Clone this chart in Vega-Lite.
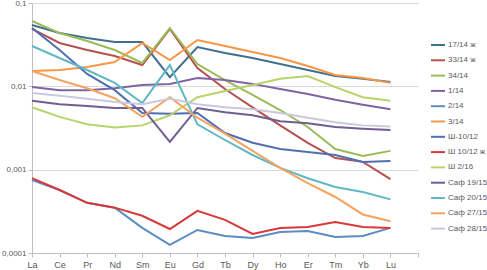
{
  "$schema": "https://vega.github.io/schema/vega-lite/v6.json",
  "width": 386,
  "height": 250,
  "autosize": {"type": "none"},
  "padding": {"left": 32, "top": 3, "right": 69, "bottom": 17},
  "background": "white",
  "config": {"view": {"stroke": null}, "font": "Liberation Sans"},
  "datasets": {
    "ree": [
      {"s":"17/14 ж","e":"La","v":0.0544},{"s":"17/14 ж","e":"Ce","v":0.0436},{"s":"17/14 ж","e":"Pr","v":0.038},{"s":"17/14 ж","e":"Nd","v":0.034},{"s":"17/14 ж","e":"Sm","v":0.034},{"s":"17/14 ж","e":"Eu","v":0.0129},{"s":"17/14 ж","e":"Gd","v":0.0296},{"s":"17/14 ж","e":"Tb","v":0.0251},{"s":"17/14 ж","e":"Dy","v":0.0219},{"s":"17/14 ж","e":"Ho","v":0.0185},{"s":"17/14 ж","e":"Er","v":0.0157},{"s":"17/14 ж","e":"Tm","v":0.0133},{"s":"17/14 ж","e":"Yb","v":0.0123},{"s":"17/14 ж","e":"Lu","v":0.0113},
      {"s":"33/14 ж","e":"La","v":0.0488},{"s":"33/14 ж","e":"Ce","v":0.0331},{"s":"33/14 ж","e":"Pr","v":0.0273},{"s":"33/14 ж","e":"Nd","v":0.0231},{"s":"33/14 ж","e":"Sm","v":0.018},{"s":"33/14 ж","e":"Eu","v":0.0488},{"s":"33/14 ж","e":"Gd","v":0.0166},{"s":"33/14 ж","e":"Tb","v":0.0093},{"s":"33/14 ж","e":"Dy","v":0.0056},{"s":"33/14 ж","e":"Ho","v":0.0034},{"s":"33/14 ж","e":"Er","v":0.0021},{"s":"33/14 ж","e":"Tm","v":0.00138},{"s":"33/14 ж","e":"Yb","v":0.00124},{"s":"33/14 ж","e":"Lu","v":0.00077},
      {"s":"34/14","e":"La","v":0.0608},{"s":"34/14","e":"Ce","v":0.0436},{"s":"34/14","e":"Pr","v":0.035},{"s":"34/14","e":"Nd","v":0.0273},{"s":"34/14","e":"Sm","v":0.0191},{"s":"34/14","e":"Eu","v":0.0501},{"s":"34/14","e":"Gd","v":0.0185},{"s":"34/14","e":"Tb","v":0.0119},{"s":"34/14","e":"Dy","v":0.0079},{"s":"34/14","e":"Ho","v":0.0052},{"s":"34/14","e":"Er","v":0.00325},{"s":"34/14","e":"Tm","v":0.00177},{"s":"34/14","e":"Yb","v":0.00146},{"s":"34/14","e":"Lu","v":0.00168},
      {"s":"1/14","e":"La","v":0.0098},{"s":"1/14","e":"Ce","v":0.009},{"s":"1/14","e":"Pr","v":0.009},{"s":"1/14","e":"Nd","v":0.0095},{"s":"1/14","e":"Sm","v":0.0104},{"s":"1/14","e":"Eu","v":0.0107},{"s":"1/14","e":"Gd","v":0.0126},{"s":"1/14","e":"Tb","v":0.0119},{"s":"1/14","e":"Dy","v":0.0107},{"s":"1/14","e":"Ho","v":0.0093},{"s":"1/14","e":"Er","v":0.0081},{"s":"1/14","e":"Tm","v":0.0069},{"s":"1/14","e":"Yb","v":0.006},{"s":"1/14","e":"Lu","v":0.0053},
      {"s":"2/14","e":"La","v":0.00075},{"s":"2/14","e":"Ce","v":0.00057},{"s":"2/14","e":"Pr","v":0.0004},{"s":"2/14","e":"Nd","v":0.00035},{"s":"2/14","e":"Sm","v":0.0002},{"s":"2/14","e":"Eu","v":0.000125},{"s":"2/14","e":"Gd","v":0.000189},{"s":"2/14","e":"Tb","v":0.00016},{"s":"2/14","e":"Dy","v":0.000151},{"s":"2/14","e":"Ho","v":0.000179},{"s":"2/14","e":"Er","v":0.000184},{"s":"2/14","e":"Tm","v":0.000156},{"s":"2/14","e":"Yb","v":0.00016},{"s":"2/14","e":"Lu","v":0.0002},
      {"s":"3/14","e":"La","v":0.0153},{"s":"3/14","e":"Ce","v":0.0157},{"s":"3/14","e":"Pr","v":0.0171},{"s":"3/14","e":"Nd","v":0.0196},{"s":"3/14","e":"Sm","v":0.0331},{"s":"3/14","e":"Eu","v":0.0207},{"s":"3/14","e":"Gd","v":0.036},{"s":"3/14","e":"Tb","v":0.0305},{"s":"3/14","e":"Dy","v":0.0258},{"s":"3/14","e":"Ho","v":0.0219},{"s":"3/14","e":"Er","v":0.0175},{"s":"3/14","e":"Tm","v":0.0137},{"s":"3/14","e":"Yb","v":0.0126},{"s":"3/14","e":"Lu","v":0.011},
      {"s":"Ш-10/12","e":"La","v":0.0501},{"s":"Ш-10/12","e":"Ce","v":0.0273},{"s":"Ш-10/12","e":"Pr","v":0.0141},{"s":"Ш-10/12","e":"Nd","v":0.009},{"s":"Ш-10/12","e":"Sm","v":0.0048},{"s":"Ш-10/12","e":"Eu","v":0.0047},{"s":"Ш-10/12","e":"Gd","v":0.0048},{"s":"Ш-10/12","e":"Tb","v":0.00275},{"s":"Ш-10/12","e":"Dy","v":0.0021},{"s":"Ш-10/12","e":"Ho","v":0.00177},{"s":"Ш-10/12","e":"Er","v":0.00163},{"s":"Ш-10/12","e":"Tm","v":0.0015},{"s":"Ш-10/12","e":"Yb","v":0.00124},{"s":"Ш-10/12","e":"Lu","v":0.00127},
      {"s":"Ш 10/12 ж","e":"La","v":0.00079},{"s":"Ш 10/12 ж","e":"Ce","v":0.00057},{"s":"Ш 10/12 ж","e":"Pr","v":0.0004},{"s":"Ш 10/12 ж","e":"Nd","v":0.00035},{"s":"Ш 10/12 ж","e":"Sm","v":0.00028},{"s":"Ш 10/12 ж","e":"Eu","v":0.000194},{"s":"Ш 10/12 ж","e":"Gd","v":0.00032},{"s":"Ш 10/12 ж","e":"Tb","v":0.00025},{"s":"Ш 10/12 ж","e":"Dy","v":0.000169},{"s":"Ш 10/12 ж","e":"Ho","v":0.0002},{"s":"Ш 10/12 ж","e":"Er","v":0.000205},{"s":"Ш 10/12 ж","e":"Tm","v":0.000235},{"s":"Ш 10/12 ж","e":"Yb","v":0.000205},{"s":"Ш 10/12 ж","e":"Lu","v":0.0002},
      {"s":"Ш 2/16","e":"La","v":0.0056},{"s":"Ш 2/16","e":"Ce","v":0.0043},{"s":"Ш 2/16","e":"Pr","v":0.0035},{"s":"Ш 2/16","e":"Nd","v":0.0032},{"s":"Ш 2/16","e":"Sm","v":0.0034},{"s":"Ш 2/16","e":"Eu","v":0.0045},{"s":"Ш 2/16","e":"Gd","v":0.0074},{"s":"Ш 2/16","e":"Tb","v":0.0088},{"s":"Ш 2/16","e":"Dy","v":0.0104},{"s":"Ш 2/16","e":"Ho","v":0.0123},{"s":"Ш 2/16","e":"Er","v":0.0133},{"s":"Ш 2/16","e":"Tm","v":0.0098},{"s":"Ш 2/16","e":"Yb","v":0.0074},{"s":"Ш 2/16","e":"Lu","v":0.0067},
      {"s":"Саф 19/15","e":"La","v":0.0067},{"s":"Саф 19/15","e":"Ce","v":0.0061},{"s":"Саф 19/15","e":"Pr","v":0.0058},{"s":"Саф 19/15","e":"Nd","v":0.0055},{"s":"Саф 19/15","e":"Sm","v":0.0055},{"s":"Саф 19/15","e":"Eu","v":0.00215},{"s":"Саф 19/15","e":"Gd","v":0.0055},{"s":"Саф 19/15","e":"Tb","v":0.0049},{"s":"Саф 19/15","e":"Dy","v":0.0045},{"s":"Саф 19/15","e":"Ho","v":0.0038},{"s":"Саф 19/15","e":"Er","v":0.0036},{"s":"Саф 19/15","e":"Tm","v":0.00325},{"s":"Саф 19/15","e":"Yb","v":0.0031},{"s":"Саф 19/15","e":"Lu","v":0.003},
      {"s":"Саф 20/15","e":"La","v":0.0305},{"s":"Саф 20/15","e":"Ce","v":0.0219},{"s":"Саф 20/15","e":"Pr","v":0.0157},{"s":"Саф 20/15","e":"Nd","v":0.011},{"s":"Саф 20/15","e":"Sm","v":0.0063},{"s":"Саф 20/15","e":"Eu","v":0.018},{"s":"Саф 20/15","e":"Gd","v":0.0035},{"s":"Саф 20/15","e":"Tb","v":0.00227},{"s":"Саф 20/15","e":"Dy","v":0.0015},{"s":"Саф 20/15","e":"Ho","v":0.00105},{"s":"Саф 20/15","e":"Er","v":0.00079},{"s":"Саф 20/15","e":"Tm","v":0.00062},{"s":"Саф 20/15","e":"Yb","v":0.00054},{"s":"Саф 20/15","e":"Lu","v":0.00044},
      {"s":"Саф 27/15","e":"La","v":0.0153},{"s":"Саф 27/15","e":"Ce","v":0.0119},{"s":"Саф 27/15","e":"Pr","v":0.0095},{"s":"Саф 27/15","e":"Nd","v":0.0072},{"s":"Саф 27/15","e":"Sm","v":0.0043},{"s":"Саф 27/15","e":"Eu","v":0.0074},{"s":"Саф 27/15","e":"Gd","v":0.0042},{"s":"Саф 27/15","e":"Tb","v":0.0027},{"s":"Саф 27/15","e":"Dy","v":0.00168},{"s":"Саф 27/15","e":"Ho","v":0.00105},{"s":"Саф 27/15","e":"Er","v":0.00069},{"s":"Саф 27/15","e":"Tm","v":0.00047},{"s":"Саф 27/15","e":"Yb","v":0.00029},{"s":"Саф 27/15","e":"Lu","v":0.00024},
      {"s":"Саф 28/15","e":"La","v":0.0083},{"s":"Саф 28/15","e":"Ce","v":0.0077},{"s":"Саф 28/15","e":"Pr","v":0.0071},{"s":"Саф 28/15","e":"Nd","v":0.0065},{"s":"Саф 28/15","e":"Sm","v":0.0061},{"s":"Саф 28/15","e":"Eu","v":0.0071},{"s":"Саф 28/15","e":"Gd","v":0.0061},{"s":"Саф 28/15","e":"Tb","v":0.0056},{"s":"Саф 28/15","e":"Dy","v":0.0053},{"s":"Саф 28/15","e":"Ho","v":0.0048},{"s":"Саф 28/15","e":"Er","v":0.0042},{"s":"Саф 28/15","e":"Tm","v":0.0037},{"s":"Саф 28/15","e":"Yb","v":0.0034},{"s":"Саф 28/15","e":"Lu","v":0.0033}
    ]
  },
  "data": {"name": "ree"},
  "mark": {"type": "line", "strokeWidth": 2},
  "encoding": {
    "x": {
      "field": "e",
      "type": "ordinal",
      "sort": null,
      "scale": {"type": "point", "padding": 0, "domain": ["La","Ce","Pr","Nd","Sm","Eu","Gd","Tb","Dy","Ho","Er","Tm","Yb","Lu"," "]},
      "axis": {"title": null, "labelAngle": 0, "grid": false, "domainColor": "#BFBFBF", "tickColor": "#BFBFBF", "tickSize": 4, "labelFontSize": 9, "labelColor": "#595959", "labelPadding": 3}
    },
    "y": {
      "field": "v",
      "type": "quantitative",
      "scale": {"type": "log", "domain": [0.0001, 0.1]},
      "axis": {"title": null, "values": [0.0001, 0.001, 0.01, 0.1], "labelExpr": "replace(format(datum.value, '~g'), '.', ',')", "grid": true, "gridColor": "#D9D9D9", "domainColor": "#BFBFBF", "tickColor": "#BFBFBF", "tickSize": 4, "labelFontSize": 8, "labelColor": "#595959", "labelPadding": 2}
    },
    "color": {
      "field": "s",
      "type": "nominal",
      "scale": {
        "domain": ["17/14 ж","33/14 ж","34/14","1/14","2/14","3/14","Ш-10/12","Ш 10/12 ж","Ш 2/16","Саф 19/15","Саф 20/15","Саф 27/15","Саф 28/15"],
        "range": ["#41708F","#B5514E","#9BBB59","#8064A2","#5B8DC0","#F79646","#4F6FB0","#D9383A","#B9D36A","#6E5E93","#5FB8C4","#F4A460","#C9C9DE"]
      },
      "legend": {"title": null, "orient": "none", "legendX": 398, "legendY": 34, "padding": 0, "symbolType": "stroke", "symbolSize": 196, "symbolStrokeWidth": 2, "labelFont": "Liberation Sans", "labelFontSize": 8, "labelLimit": 0, "labelColor": "#595959", "labelOffset": 2, "rowPadding": 3.3}
    }
  }
}
